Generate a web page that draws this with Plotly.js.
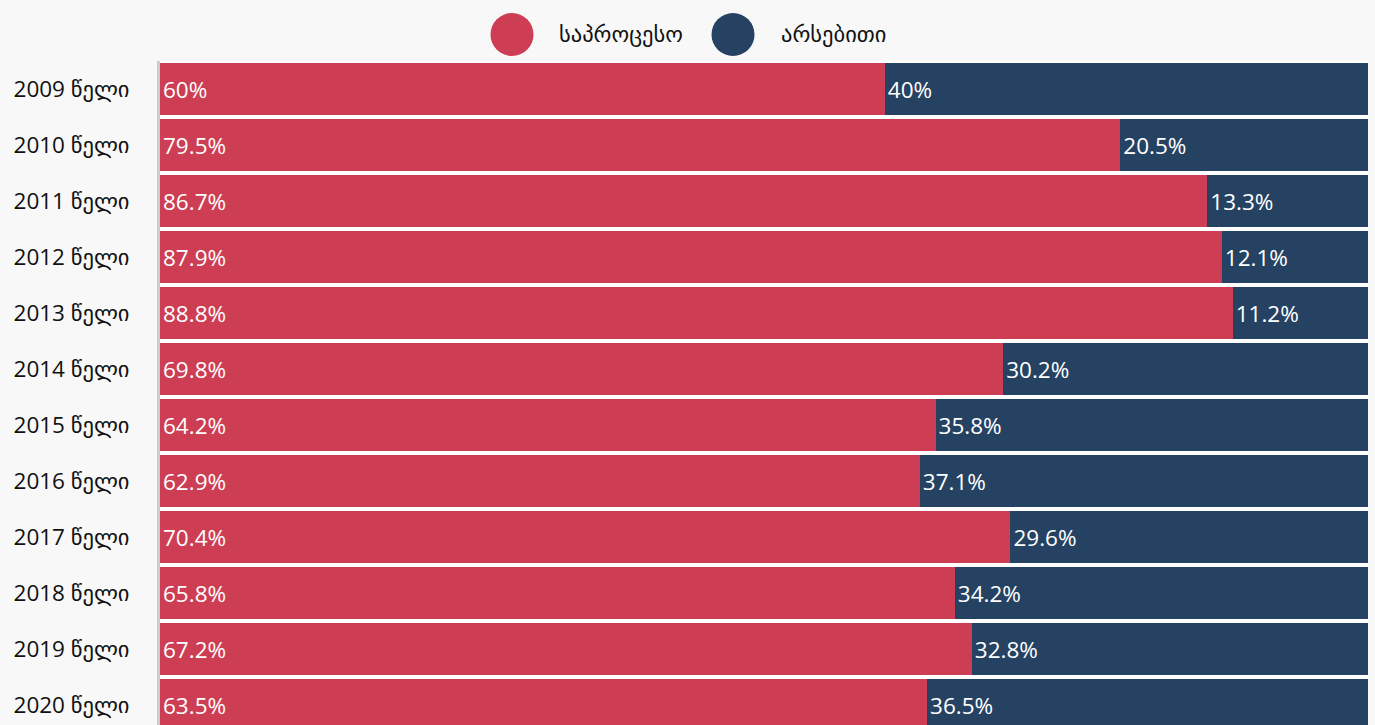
<!DOCTYPE html>
<html>
<head>
<meta charset="utf-8">
<script src="https://cdn.plot.ly/plotly-3.0.1.min.js"></script>
<style>
html,body{margin:0;padding:0;background:#f8f8f8;overflow:hidden;}
#chart{width:1375px;height:725px;}
</style>
</head>
<body>
<div id="chart"></div>
<script>
const categories = ["2009 წელი","2010 წელი","2011 წელი","2012 წელი","2013 წელი","2014 წელი","2015 წელი","2016 წელი","2017 წელი","2018 წელი","2019 წელი","2020 წელი"];
const seriesNames = ["საპროცესო","არსებითი"];
const procedural = [60, 79.5, 86.7, 87.9, 88.8, 69.8, 64.2, 62.9, 70.4, 65.8, 67.2, 63.5];
const substantive = [40, 20.5, 13.3, 12.1, 11.2, 30.2, 35.8, 37.1, 29.6, 34.2, 32.8, 36.5];
const colors = ["#cd3e54", "#254263"];

const W = 1375, H = 725;
const mL = 160, mR = 7, mT = 61, mB = 0;
const plotW = W - mL - mR, plotH = H - mT - mB;
const pitch = 56;
const fontFam = "'Open Sans', 'Noto Sans', 'DejaVu Sans', sans-serif";
const fs = 22.5;

function fmt(v){ return v + "%"; }

const traces = [procedural, substantive].map((vals, i) => ({
  type: "bar",
  orientation: "h",
  name: seriesNames[i],
  y: categories,
  x: vals,
  text: vals.map(fmt),
  textposition: "inside",
  insidetextanchor: "start",
  textangle: 0,
  constraintext: "none",
  textfont: {family: fontFam, size: fs, color: "#ffffff"},
  marker: {color: colors[i], line: {width: 0}},
  hoverinfo: "y+x",
  showlegend: false,
  cliponaxis: true
}));

const px2x = px => (px - mL) / plotW;
const px2y = py => 1 - (py - mT) / plotH;

const legendItems = [
  {cx: 512, tx: 557, name: seriesNames[0], color: colors[0]},
  {cx: 733, tx: 779, name: seriesNames[1], color: colors[1]}
];
const legendY = 34.5;
const shapes = legendItems.map(it => ({
  type: "circle", xref: "paper", yref: "paper",
  xsizemode: "pixel", ysizemode: "pixel",
  xanchor: px2x(it.cx), yanchor: px2y(legendY),
  x0: -21.5, x1: 21.5, y0: -21.5, y1: 21.5,
  fillcolor: it.color, line: {width: 0}
}));
const annotations = legendItems.map(it => ({
  xref: "paper", yref: "paper",
  x: px2x(it.tx), y: px2y(legendY - 1),
  xanchor: "left", yanchor: "middle",
  text: it.name, showarrow: false,
  font: {family: fontFam, size: fs, color: "#111111"}
}));

const bottomIdx = -0.5 + plotH / pitch;

const layout = {
  width: W, height: H,
  margin: {l: mL, r: mR, t: mT, b: mB, pad: 0},
  paper_bgcolor: "#f8f8f8",
  plot_bgcolor: "#ffffff",
  barmode: "stack",
  bargap: 0.08,
  showlegend: false,
  xaxis: {range: [0, 100], visible: false, fixedrange: true},
  yaxis: {
    type: "category",
    range: [bottomIdx, -0.5],
    showline: true, linecolor: "#cccccc", linewidth: 3,
    showgrid: false, zeroline: false,
    ticks: "outside", ticklen: 23, tickcolor: "rgba(0,0,0,0)",
    tickfont: {family: fontFam, size: fs, color: "#111111"},
    fixedrange: true
  },
  shapes: shapes,
  annotations: annotations,
  font: {family: fontFam}
};

Plotly.newPlot("chart", traces, layout, {displayModeBar: false, staticPlot: true});
</script>
</body>
</html>
